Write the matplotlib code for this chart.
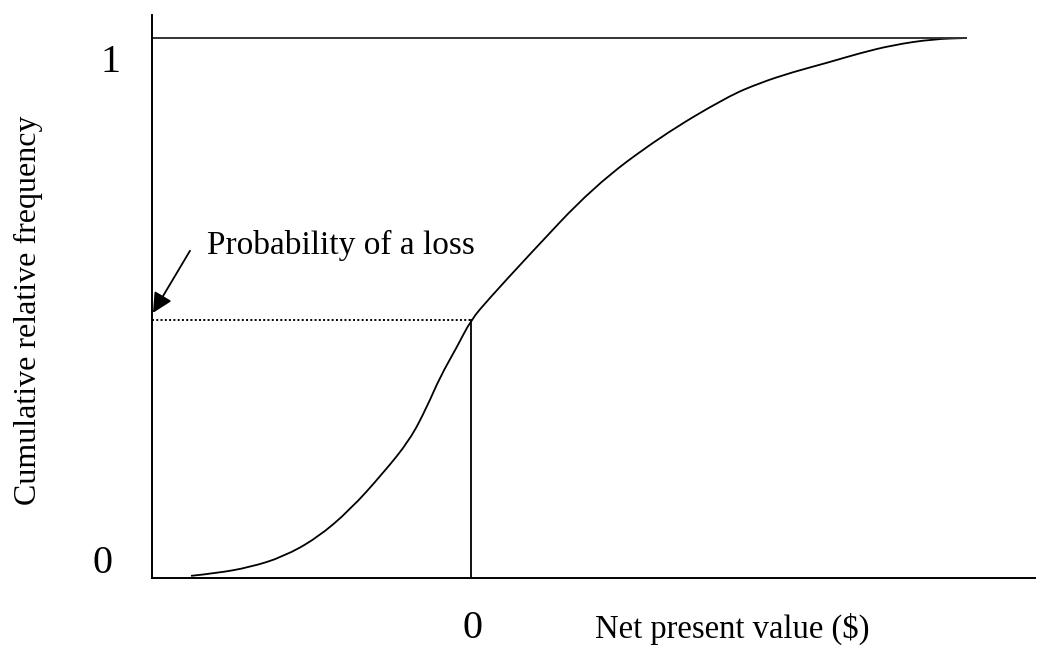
import matplotlib
matplotlib.use("Agg")
import matplotlib.pyplot as plt
from matplotlib.path import Path
from matplotlib.patches import PathPatch

plt.rcParams['font.family'] = ['Liberation Serif', 'DejaVu Serif']

# cumulative distribution of NPV (x in arbitrary $ units, 0 = break-even)
npv = [-2.80, -2.54, -2.21, -1.88, -1.54, -1.21, -0.88, -0.61, -0.44, -0.31,
       -0.14, 0.00, 0.17, 0.56, 1.22, 1.89, 2.56, 2.89, 3.22, 3.56, 3.89,
       4.22, 4.62, 4.96]
cum_freq = [0.004, 0.009, 0.020, 0.039, 0.074, 0.126, 0.194, 0.256, 0.317,
            0.372, 0.428, 0.478, 0.515, 0.594, 0.724, 0.817, 0.891, 0.917,
            0.937, 0.954, 0.972, 0.987, 0.998, 1.0]
p_loss = 0.478
ytick_labels = ["0", "1"]
xtick_label = "0"

W, H = 1043, 648
fig = plt.figure(figsize=(W / 100, H / 100), dpi=100)
ax = fig.add_axes([152 / W, 1 - 578 / H, (1035 - 152) / W, (578 - 15) / H])

xmin, xmax = -3.19, 5.64
ax.set_xlim(xmin, xmax)
ax.set_ylim(0, 1.0426)

ax.spines['top'].set_visible(False)
ax.spines['right'].set_visible(False)
for s in ['left', 'bottom']:
    ax.spines[s].set_linewidth(1.4)
    ax.spines[s].set_color('black')
ax.set_xticks([])
ax.set_yticks([])

# upper bound line at 1
ax.plot([xmin, npv[-1]], [1, 1], color='#333333', lw=1.4, solid_capstyle='butt')

# the curve, drawn as a smooth path through the read points
pts = list(zip(npv, cum_freq))
verts = [pts[0]]
codes = [Path.MOVETO]
for i in range(1, len(pts) - 1):
    mid = ((pts[i][0] + pts[i + 1][0]) / 2, (pts[i][1] + pts[i + 1][1]) / 2)
    verts += [pts[i], mid]
    codes += [Path.CURVE3, Path.CURVE3]
verts.append(pts[-1])
codes.append(Path.LINETO)
ax.add_patch(PathPatch(Path(verts, codes), facecolor='none',
                       edgecolor='black', lw=1.3))

# probability of a loss
ax.plot([0, 0], [0, p_loss], color='black', lw=1.3)
ax.plot([xmin, 0], [p_loss, p_loss], color='black', lw=1.4,
        linestyle=(0, (1, 1.2)))

ax.annotate("", xy=(xmin + 0.01, p_loss + 0.013), xytext=(-2.81, 0.606),
            arrowprops=dict(arrowstyle='-|>', color='black', lw=1.3,
                            mutation_scale=30, shrinkA=0, shrinkB=0))
ax.text(-2.64, 0.60, "Probability of a loss", fontsize=24,
        ha='left', va='baseline')

# tick labels and axis labels
fig.text(110 / W, 1 - 72 / H, ytick_labels[1], fontsize=29, ha='center', va='baseline')
fig.text(103 / W, 1 - 573 / H, ytick_labels[0], fontsize=29, ha='center', va='baseline')
fig.text(473 / W, 1 - 638 / H, xtick_label, fontsize=29, ha='center', va='baseline')

fig.text(595 / W, 1 - 638 / H, "Net present value ($)", fontsize=23.5,
         ha='left', va='baseline')
fig.text(28 / W, 1 - 310 / H, "Cumulative relative frequency", fontsize=23,
         rotation=90, ha='center', va='center')

fig.savefig("out.png", dpi=100)
